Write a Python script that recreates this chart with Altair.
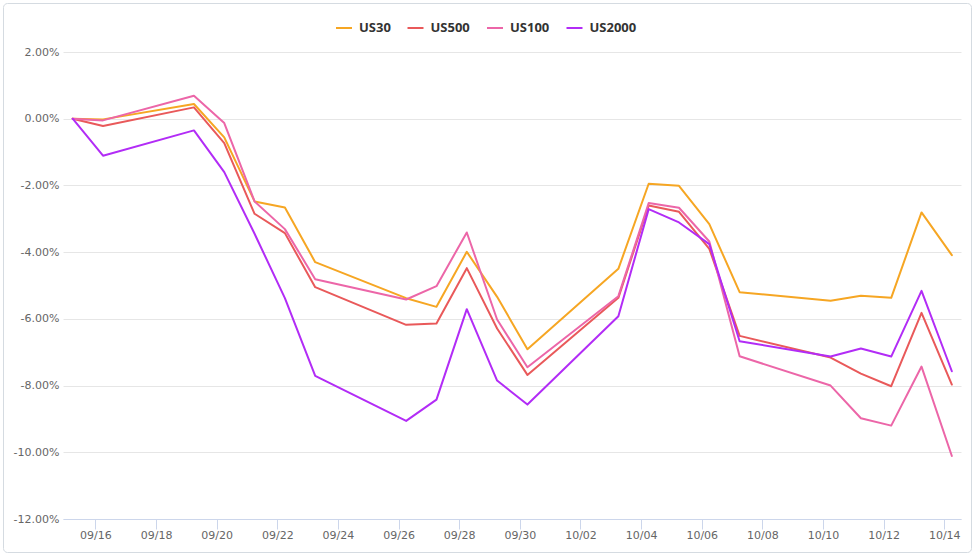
import altair as alt
import pandas as pd

dates = ["2022-09-15", "2022-09-16", "2022-09-19", "2022-09-20", "2022-09-21", "2022-09-22",
         "2022-09-23", "2022-09-26", "2022-09-27", "2022-09-28", "2022-09-29", "2022-09-30",
         "2022-10-03", "2022-10-04", "2022-10-05", "2022-10-06", "2022-10-07", "2022-10-10",
         "2022-10-11", "2022-10-12", "2022-10-13", "2022-10-14"]

us30 = [0, -0.02, 0.44, -0.56, -2.48, -2.66, -4.30, -5.38, -5.64, -3.99, -5.34, -6.91,
        -4.50, -1.95, -2.01, -3.16, -5.20, -5.46, -5.31, -5.37, -2.81, -4.09]
us500 = [0, -0.22, 0.34, -0.73, -2.85, -3.43, -5.05, -6.18, -6.14, -4.48, -6.29, -7.68,
         -5.37, -2.60, -2.79, -3.90, -6.51, -7.16, -7.64, -8.02, -5.82, -7.97]
us100 = [0, -0.05, 0.69, -0.13, -2.48, -3.31, -4.81, -5.42, -5.02, -3.41, -6.02, -7.45,
         -5.32, -2.53, -2.67, -3.68, -7.12, -8.00, -8.98, -9.20, -7.43, -10.11]
us2000 = [0, -1.11, -0.35, -1.60, -3.45, -5.38, -7.71, -9.06, -8.42, -5.71, -7.85, -8.57,
          -5.92, -2.71, -3.11, -3.76, -6.67, -7.13, -6.89, -7.13, -5.16, -7.57]

series_names = ["US30", "US500", "US100", "US2000"]
series_colors = ["#f6a623", "#e9595a", "#ec66a8", "#b22cf6"]
series_values = [us30, us500, us100, us2000]

y_ticks = [-12, -10, -8, -6, -4, -2, 0, 2]
x_tick_days = [(9, 16), (9, 18), (9, 20), (9, 22), (9, 24), (9, 26), (9, 28), (9, 30),
               (10, 2), (10, 4), (10, 6), (10, 8), (10, 10), (10, 12), (10, 14)]

rows = []
for name, vals in zip(series_names, series_values):
    for d, v in zip(dates, vals):
        rows.append({"date": d + "T06:00:00", "series": name, "value": v})
df = pd.DataFrame(rows)

W, H = 898, 467
PL, PT = 63, 52

x_enc = alt.X(
    "date:T",
    scale=alt.Scale(domain=[alt.DateTime(year=2022, month=9, date=14, hours=22, minutes=20),
                            alt.DateTime(year=2022, month=10, date=14, hours=13, minutes=15)]),
    axis=alt.Axis(
        values=[alt.DateTime(year=2022, month=m, date=d) for m, d in x_tick_days],
        format="%m/%d", title=None, grid=False, labelAngle=0,
        labelFont="DejaVu Sans", labelFontSize=11, labelColor="#666666",
        domainColor="#ccd6eb", domainWidth=1, tickColor="#ccd6eb", tickSize=10,
        labelPadding=0, zindex=1, labelFlush=False, labelOverlap=False,
    ),
)
y_enc = alt.Y(
    "value:Q",
    scale=alt.Scale(domain=[-12, 2], nice=False, zero=False),
    axis=alt.Axis(
        values=y_ticks, title=None, grid=True, gridColor="#e6e6e6", gridWidth=1,
        domain=False, ticks=False, labelPadding=4,
        labelExpr="(datum.value < 0 ? '-' : '') + format(abs(datum.value), '.2f') + '%'",
        labelFont="DejaVu Sans", labelFontSize=11, labelColor="#666666",
    ),
)

lines = alt.Chart(df).mark_line(strokeWidth=2, strokeJoin="round", strokeCap="round").encode(
    x=x_enc,
    y=y_enc,
    color=alt.Color(
        "series:N",
        scale=alt.Scale(domain=series_names, range=series_colors),
        legend=alt.Legend(
            orient="none", legendX=272, legendY=-33, direction="horizontal", title=None,
            symbolType="stroke", symbolSize=256, symbolStrokeWidth=2,
            labelFont="Open Sans", labelFontWeight="bold", labelFontSize=13,
            labelColor="#333333", columnPadding=12.5, labelOffset=6,
        ),
    ),
    order=alt.Order("date:T"),
)

border = alt.Chart(pd.DataFrame({"k": [0]})).mark_rect(
    fill=None, stroke="#d5dbe1", strokeWidth=1, cornerRadius=4
).encode(
    x=alt.value(3.5 - PL), x2=alt.value(971.5 - PL),
    y=alt.value(3.5 - PT), y2=alt.value(552.5 - PT),
)

chart = alt.layer(border, lines).properties(
    width=W, height=H,
    autosize=alt.AutoSizeParams(type="none"),
    padding={"left": PL, "top": PT, "right": 975 - PL - W, "bottom": 560 - PT - H},
).configure(font="DejaVu Sans", background="white").configure_view(stroke=None, strokeWidth=0)

chart.save("out.html", embed_options={"renderer": "svg", "actions": False})
